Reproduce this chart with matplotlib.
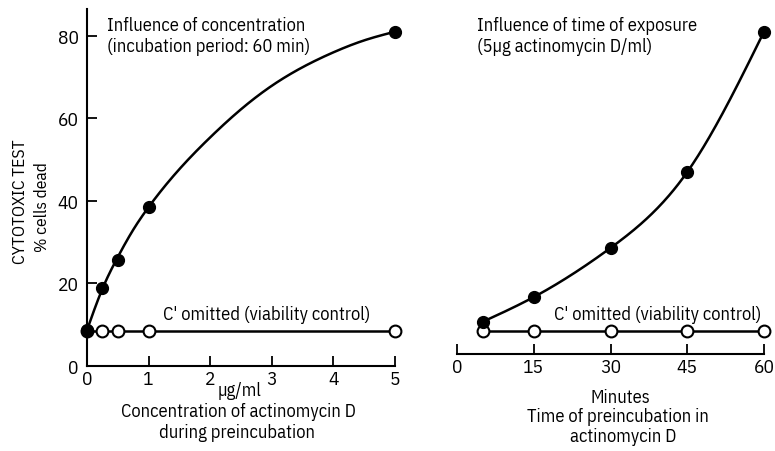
import numpy as np
import matplotlib
matplotlib.use("Agg")
import matplotlib.pyplot as plt

plt.rcParams['font.family'] = ['IBM Plex Sans Condensed', 'DejaVu Sans']

# ---- data ----
conc_x = [0, 0.25, 0.5, 1, 5]
conc_dead = [8.7, 18.9, 25.8, 38.6, 81]
conc_ctrl_x = [0, 0.25, 0.5, 1, 5]
conc_ctrl = [8.6, 8.6, 8.6, 8.6, 8.6]
# smooth curve drawn through the points
conc_curve_x = [0, 0.25, 0.5, 0.75, 1, 1.5, 2, 2.5, 3, 3.5, 4, 4.5, 5]
conc_curve_y = [8.7, 18.7, 26.4, 33.0, 38.5, 47.7, 55.4, 62.2, 67.9, 72.4, 76.0, 78.9, 81.0]

time_x = [5, 15, 30, 45, 60]
time_dead = [10.7, 16.7, 28.6, 47, 81]
time_ctrl = [8.6, 8.6, 8.6, 8.6, 8.6]

left_yticks = [0, 20, 40, 60, 80]
left_xticks = [0, 1, 2, 3, 4, 5]
right_xticks = [0, 15, 30, 45, 60]


def spline(x, y, n=300):
    x = np.asarray(x, float); y = np.asarray(y, float)
    m = len(x); h = np.diff(x)
    A = np.zeros((m, m)); b = np.zeros(m)
    A[0, 0] = A[-1, -1] = 1
    for i in range(1, m - 1):
        A[i, i - 1] = h[i - 1]; A[i, i] = 2 * (h[i - 1] + h[i]); A[i, i + 1] = h[i]
        b[i] = 3 * ((y[i + 1] - y[i]) / h[i] - (y[i] - y[i - 1]) / h[i - 1])
    c = np.linalg.solve(A, b)
    xs = np.linspace(x[0], x[-1], n)
    idx = np.clip(np.searchsorted(x, xs) - 1, 0, m - 2)
    dx = xs - x[idx]
    bb = (y[idx + 1] - y[idx]) / h[idx] - h[idx] * (2 * c[idx] + c[idx + 1]) / 3
    d = (c[idx + 1] - c[idx]) / (3 * h[idx])
    return xs, y[idx] + bb * dx + c[idx] * dx ** 2 + d * dx ** 3


fig = plt.figure(figsize=(7.75, 4.52), dpi=100)
ylim = (0, 86.5)
ax1 = fig.add_axes([87 / 775, 1 - 367 / 452, (395 - 87) / 775, (367 - 10) / 452])
ax2 = fig.add_axes([457 / 775, 1 - 367 / 452, (764 - 457) / 775, (367 - 10) / 452])

FS = 13.3
LW = 1.8
MS = 8.5

# left panel
ax1.set_xlim(0, 5)
ax1.set_ylim(*ylim)
xs, ys = spline(conc_curve_x, conc_curve_y)
ax1.plot(xs, ys, color='black', lw=LW, clip_on=False, zorder=3)
ax1.plot(conc_ctrl_x, conc_ctrl, color='black', lw=LW, marker='o', ms=MS,
         mfc='white', mec='black', mew=1.5, clip_on=False, zorder=4)
ax1.plot(conc_x, conc_dead, ls='none', marker='o', ms=MS, color='black',
         clip_on=False, zorder=5)
for s in ['top', 'right']:
    ax1.spines[s].set_visible(False)
for s in ['left', 'bottom']:
    ax1.spines[s].set_linewidth(1.5)
ax1.set_xticks(left_xticks)
ax1.set_yticks(left_yticks)
ax1.tick_params(direction='in', length=7, width=1.3, labelsize=14, pad=3)
ax1.tick_params(axis='y', pad=6)
ax1.text(0.32, 82.7, 'Influence of concentration', fontsize=FS, va='center', ha='left')
ax1.text(0.32, 77.6, '(incubation period: 60 min)', fontsize=FS, va='center', ha='left')
ax1.text(1.23, 12.7, "C' omitted (viability control)", fontsize=FS, va='center', ha='left')
fig.text(20 / 775, 1 - 202 / 452, 'CYTOTOXIC TEST', rotation=90, fontsize=12.5,
         ha='center', va='center')
fig.text(42 / 775, 1 - 207 / 452, '% cells dead', rotation=90, fontsize=12.5,
         ha='center', va='center')
fig.text(240 / 775, 1 - 391 / 452, 'µg/ml', fontsize=FS, ha='center', va='center')
fig.text(238 / 775, 1 - 412 / 452, 'Concentration of actinomycin D', fontsize=FS,
         ha='center', va='center')
fig.text(237 / 775, 1 - 433 / 452, 'during preincubation', fontsize=FS,
         ha='center', va='center')

# right panel
ax2.set_xlim(0, 60)
ax2.set_ylim(*ylim)
xs, ys = spline(time_x, time_dead)
ax2.plot(xs, ys, color='black', lw=LW, clip_on=False, zorder=3)
ax2.plot(time_x, time_ctrl, color='black', lw=LW, marker='o', ms=MS,
         mfc='white', mec='black', mew=1.5, clip_on=False, zorder=4)
ax2.plot(time_x, time_dead, ls='none', marker='o', ms=MS, color='black',
         clip_on=False, zorder=5)
for s in ['top', 'right', 'left']:
    ax2.spines[s].set_visible(False)
ax2.spines['bottom'].set_position(('data', 2.9))
ax2.spines['bottom'].set_linewidth(1.5)
ax2.set_yticks([])
ax2.set_xticks(right_xticks)
ax2.tick_params(direction='in', length=7, width=1.3, labelsize=14, pad=3)
ax2.text(4.0, 82.7, 'Influence of time of exposure', fontsize=FS, va='center', ha='left')
ax2.text(4.0, 77.6, '(5µg actinomycin D/ml)', fontsize=FS, va='center', ha='left')
ax2.text(19.0, 12.7, "C' omitted (viability control)", fontsize=FS, va='center', ha='left')
fig.text(620 / 775, 1 - 398 / 452, 'Minutes', fontsize=FS, ha='center', va='center')
fig.text(618 / 775, 1 - 417 / 452, 'Time of preincubation in', fontsize=FS,
         ha='center', va='center')
fig.text(623 / 775, 1 - 437 / 452, 'actinomycin D', fontsize=FS, ha='center', va='center')

fig.savefig('out.png', dpi=100)
